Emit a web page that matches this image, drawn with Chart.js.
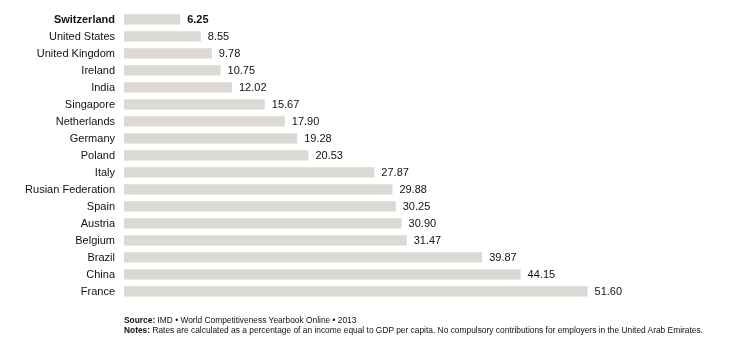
<!DOCTYPE html>
<html><head><meta charset="utf-8">
<script src="https://cdn.jsdelivr.net/npm/chart.js@4/dist/chart.umd.min.js"></script>
<style>
html,body{margin:0;padding:0;background:#fff;}
#wrap{position:relative;width:743px;height:346px;}
canvas{position:absolute;left:0;top:0;}
.foot{position:absolute;left:124px;font-family:"Liberation Sans",Arial,sans-serif;font-size:8.4px;color:#111;white-space:nowrap;}
</style></head>
<body>
<div id="wrap">
<canvas id="c" width="743" height="346"></canvas>
<div class="foot" style="top:315px"><b>Source:</b> IMD • World Competitiveness Yearbook Online • 2013</div>
<div class="foot" style="top:325px"><b>Notes:</b> Rates are calculated as a percentage of an income equal to GDP per capita. No compulsory contributions for employers in the United Arab Emirates.</div>
</div>
<script>
const countries = ["Switzerland","United States","United Kingdom","Ireland","India","Singapore","Netherlands","Germany","Poland","Italy","Rusian Federation","Spain","Austria","Belgium","Brazil","China","France"];
const rates = [6.25,8.55,9.78,10.75,12.02,15.67,17.90,19.28,20.53,27.87,29.88,30.25,30.90,31.47,39.87,44.15,51.60];
const highlighted = "Switzerland";

const valueLabels = {
  id:'valueLabels',
  afterDatasetsDraw(chart){
    const ctx = chart.ctx;
    const meta = chart.getDatasetMeta(0);
    ctx.save();
    ctx.textBaseline='middle';
    ctx.textAlign='left';
    ctx.fillStyle='#111';
    meta.data.forEach((bar,i)=>{
      ctx.font = (countries[i]===highlighted?'bold ':'') + '11px "Liberation Sans", Arial, sans-serif';
      ctx.fillText(rates[i].toFixed(2), bar.x + 7, bar.y + 1);
    });
    ctx.restore();
  }
};

new Chart(document.getElementById('c'), {
  type:'bar',
  data:{labels:countries, datasets:[{data:rates, backgroundColor:'#dcd8d4', borderWidth:0, barPercentage:0.6, categoryPercentage:1}]},
  options:{
    indexAxis:'y', responsive:false, animation:false,
    layout:{padding:{top:10.8,bottom:46.2,right:80,left:0}},
    plugins:{legend:{display:false},tooltip:{enabled:false}},
    scales:{
      x:{display:false,min:0,max:60},
      y:{
        grid:{display:false,drawTicks:false}, border:{display:false},
        afterFit(s){s.width=124; s.paddingTop=0; s.paddingBottom=0;},
        ticks:{padding:9,color:'#111',labelOffset:1,
          font:(c)=>({family:'"Liberation Sans", Arial, sans-serif',size:11,weight:(countries[c.index]===highlighted?'bold':'normal')})}
      }
    }
  },
  plugins:[valueLabels]
});
</script>
</body></html>
